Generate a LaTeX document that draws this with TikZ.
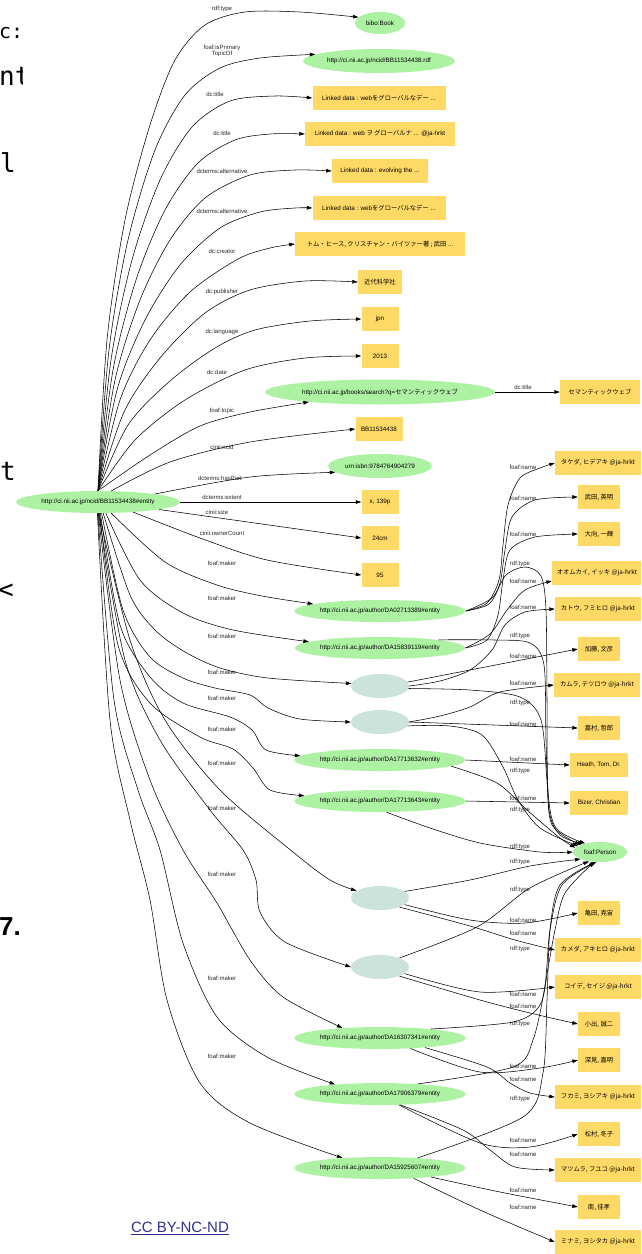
\documentclass[tikz,border=0pt]{standalone}
\usepackage{fontspec}
\setmainfont{Liberation Sans}
\newfontfamily\jp{Noto Sans CJK JP}
\newfontfamily\monof{DejaVu Sans Mono}
\usetikzlibrary{shapes.geometric,arrows.meta}
\definecolor{gfill}{HTML}{ADF2A3}
\definecolor{yfill}{HTML}{FFD966}
\definecolor{bfill}{HTML}{CCE3DC}
\definecolor{ccblue}{HTML}{2E3192}
\begin{document}
\begin{tikzpicture}[x=1pt,y=-1pt,
  nf/.style={font=\fontsize{6.3}{7}\selectfont},
  gn/.style={nf,ellipse,fill=gfill,inner sep=0.5pt},
  mk/.style={gn,minimum width=170pt,minimum height=22pt},
  yb/.style={nf,rectangle,fill=yfill,inner sep=1pt,minimum height=24pt},
  wide/.style={yb,minimum width=86pt},
  short/.style={yb,minimum width=42pt},
  bn/.style={ellipse,fill=bfill,minimum width=58pt,minimum height=24pt},
  lab/.style={font=\fontsize{6}{6.8}\selectfont,inner sep=0pt,align=center,text=black!85},
  edge/.style={line width=0.55pt,-{Triangle[length=5.5pt,width=3.6pt]}},
  frag/.style={font=\monof\fontsize{26}{26}\selectfont,inner sep=0pt},
]
\useasboundingbox (0,0) rectangle (641,1254);
\clip (0,0) rectangle (641,1254);

% slide fragments at the left
\node[font=\monof\fontsize{20}{20}\selectfont,inner sep=0pt,anchor=base west] (f1) at (-1,38) {c:};
\begin{scope}
\clip (0,0) rectangle (22,1254);
\node[frag,anchor=base west] (f2) at (-1,85) {nt};
\node[frag,anchor=base west] (f3) at (0,172) {l};
\node[frag,anchor=base west] (f4) at (0,480) {t};
\node[frag,anchor=base west] (f5) at (-2,598) {<};
\node[font=\bfseries\fontsize{26}{26}\selectfont,inner sep=0pt,anchor=base west] (f6) at (-1,935) {7.};
\end{scope}
\node[font=\fontsize{15}{15}\selectfont,text=ccblue,inner sep=0pt] (cc) at (180,1228) {\underline{CC BY-NC-ND}};

% central node
\node[gn,minimum width=164pt,minimum height=22pt] (C) at (98,502) {http://ci.nii.ac.jp/ncid/BB11534438\#entity};

% upper targets
\node[gn,minimum width=50pt,minimum height=22pt] (book) at (380,23) {bibo:Book};
\node[gn,minimum width=152pt,minimum height=24pt] (rdf) at (379,61) {http://ci.nii.ac.jp/ncid/BB11534438.rdf};
\node[yb,minimum width=133pt] (t1) at (379,98) {Linked data : web{\jp をグローバルなデー} ...};
\node[yb,minimum width=150pt] (t2) at (380,134) {Linked data : web {\jp ヲ グローバルナ} ... @ja-hrkt};
\node[yb,minimum width=96pt] (alt1) at (380,171) {Linked data : evolving the ...};
\node[yb,minimum width=133pt] (alt2) at (379,208) {Linked data : web{\jp をグローバルなデー} ...};
\node[yb,minimum width=170pt] (cre) at (380,244) {\jp トム・ヒース, クリスチャン・バイツァー著 ; 武田 ...};
\node[yb,minimum width=44pt] (pub) at (380,282) {\jp 近代科学社};
\node[yb,minimum width=37pt] (jpn) at (380,319) {jpn};
\node[yb,minimum width=37pt] (dt) at (380,356) {2013};
\node[gn,minimum width=230pt,minimum height=25pt] (topic) at (380,392) {http://ci.nii.ac.jp/books/search?q={\jp セマンティックウェブ}};
\node[yb,minimum width=80pt] (sw) at (600,392) {\jp セマンティックウェブ};
\node[yb,minimum width=47pt] (ncid) at (379,429) {BB11534438};
\node[gn,minimum width=104pt,minimum height=24pt] (isbn) at (380,466) {urn:isbn:9784764904279};
\node[yb,minimum width=37pt] (ext) at (380,502) {x, 139p};
\node[yb,minimum width=37pt] (size) at (380,538) {24cm};
\node[yb,minimum width=37pt] (own) at (380,575) {95};

% makers
\node[mk] (m1) at (380,611) {http://ci.nii.ac.jp/author/DA02713389\#entity};
\node[mk] (m2) at (380,648) {http://ci.nii.ac.jp/author/DA15839119\#entity};
\node[bn] (b1) at (380,686) {};
\node[bn] (b2) at (380,722) {};
\node[mk] (m5) at (380,760) {http://ci.nii.ac.jp/author/DA17713632\#entity};
\node[mk] (m6) at (380,801) {http://ci.nii.ac.jp/author/DA17713643\#entity};
\node[bn] (b3) at (380,898) {};
\node[bn] (b4) at (380,967) {};
\node[mk] (m9) at (380,1038) {http://ci.nii.ac.jp/author/DA16307341\#entity};
\node[mk] (m10) at (380,1094) {http://ci.nii.ac.jp/author/DA17906379\#entity};
\node[mk] (m11) at (380,1168) {http://ci.nii.ac.jp/author/DA15925607\#entity};

% names
\node[wide] (tak) at (598,463) {\jp タケダ, ヒデアキ @ja-hrkt};
\node[short] (takd) at (599,497) {\jp 武田, 英明};
\node[short] (omu) at (599,534) {\jp 大向, 一輝};
\node[yb,minimum width=90pt] (omuk) at (597,573) {\jp オオムカイ, イッキ @ja-hrkt};
\node[wide] (kat) at (598,609) {\jp カトウ, フミヒロ @ja-hrkt};
\node[short] (kato) at (599,649) {\jp 加藤, 文彦};
\node[wide] (kam) at (597,685) {\jp カムラ, テツロウ @ja-hrkt};
\node[short] (kamu) at (599,728) {\jp 嘉村, 哲郎};
\node[yb,minimum width=58pt] (heath) at (599,765) {Heath, Tom, Dr.};
\node[yb,minimum width=58pt] (bizer) at (599,803) {Bizer, Christian};
\node[gn,minimum width=54pt,minimum height=20pt] (P) at (600,852) {foaf:Person};
\node[short] (kame) at (599,913) {\jp 亀田, 尭宙};
\node[wide] (kamed) at (598,950) {\jp カメダ, アキヒロ @ja-hrkt};
\node[wide] (koi) at (598,987) {\jp コイデ, セイジ @ja-hrkt};
\node[short] (koid) at (599,1024) {\jp 小出, 誠二};
\node[short] (fuk) at (599,1060) {\jp 深見, 嘉明};
\node[wide] (fukami) at (598,1097) {\jp フカミ, ヨシアキ @ja-hrkt};
\node[short] (mat) at (599,1134) {\jp 松村, 冬子};
\node[wide] (matsu) at (598,1170) {\jp マツムラ, フユコ @ja-hrkt};
\node[short] (minami) at (599,1207) {\jp 南, 佳孝};
\node[wide] (minamiy) at (598,1242) {\jp ミナミ, ヨシタカ @ja-hrkt};

% edge labels
\node[lab] (la1) at (222,9) {rdf:type};
\node[lab] (la2) at (222,51) {foaf:isPrimary\\TopicOf};
\node[lab] (la3) at (215,94) {dc:title};
\node[lab] (la4) at (222,133) {dc:title};
\node[lab] (la5) at (222,171) {dcterms:alternative};
\node[lab] (la6) at (222,211) {dcterms:alternative};
\node[lab] (la7) at (222,251) {dc:creator};
\node[lab] (la8) at (222,292) {dc:publisher};
\node[lab] (la9) at (222,332) {dc:language};
\node[lab] (la10) at (217,372) {dc:date};
\node[lab] (la11) at (222,411) {foaf:topic};
\node[lab] (la12) at (523,387) {dc:title};
\node[lab] (la13) at (222,447) {cinii:ncid};
\node[lab] (la14) at (220,478) {dcterms:hasPart};
\node[lab] (la15) at (222,497) {dcterms:extent};
\node[lab] (la16) at (217,512) {cinii:size};
\node[lab] (la17) at (222,533) {cinii:ownerCount};
\foreach \y [count=\i] in {563,598,636,672,698,729,763,808,874,978,1056}
  \node[lab] (fm\i) at (222,\y) {foaf:maker};
\foreach \y [count=\i] in {467,498,534,581,607,656,683,724,759,798,920,933,994,1006,1066,1079,1140,1154,1190,1207}
  \node[lab] (fn\i) at (523,\y) {foaf:name};
\foreach \y [count=\i] in {564,636,703,771,810,847,862,890,949,1024,1099}
  \node[lab] (rt\i) at (520,\y) {rdf:type};

% upper fan
\draw[edge] plot[smooth] coordinates {(C.north) (107,340) (125,220) (150,125) (175,60) (205,25) (245,12) (300,12) (book.165)};
\draw[edge] plot[smooth] coordinates {(C.north) (109,350) (128,240) (155,150) (185,95) (220,68) (260,58) (rdf.174)};
\draw[edge] plot[smooth] coordinates {(C.north) (111,360) (132,260) (160,180) (192,127) (230,101) (275,96) (t1.west)};
\draw[edge] plot[smooth] coordinates {(C.north) (113,370) (136,280) (165,210) (198,163) (235,140) (270,134) (t2.west)};
\draw[edge] plot[smooth] coordinates {(C.north) (115,380) (140,300) (170,240) (205,198) (250,175) (295,170) (alt1.west)};
\draw[edge] plot[smooth] coordinates {(C.north) (117,390) (145,320) (180,265) (220,228) (260,212) (295,208) (alt2.west)};
\draw[edge] plot[smooth] coordinates {(C.north) (120,400) (150,340) (190,292) (238,259) (270,248) (cre.west)};
\draw[edge] plot[smooth] coordinates {(C.north) (124,412) (160,358) (205,313) (250,290) (305,281) (pub.west)};
\draw[edge] plot[smooth] coordinates {(C.north) (128,425) (170,381) (215,348) (255,330) (310,321) (jpn.west)};
\draw[edge] plot[smooth] coordinates {(C.north) (135,440) (185,400) (245,370) (305,358) (dt.west)};
\draw[edge] plot[smooth] coordinates {(C.north) (150,455) (200,426) (250,412) (topic.188)};
\draw[edge] plot[smooth] coordinates {(C.40) (170,462) (250,442) (ncid.west)};
\draw[edge] plot[smooth] coordinates {(C.8) (250,477) (isbn.188)};
\draw[edge] (C.east) -- (ext.west);
\draw[edge] (C.-7) -- (size.west);
\draw[edge] plot[smooth] coordinates {(C.-16) (200,538) (267,560) (own.west)};
\draw[edge] (topic.east) -- (sw.west);

% lower fan
\draw[edge] plot[smooth] coordinates {(C.-40) (165,562) (217,585) (262,596) (m1.174)};
\draw[edge] plot[smooth] coordinates {(C.-55) (140,580) (183,613) (233,630) (m2.175)};
\draw[edge] plot[smooth] coordinates {(C.-65) (130,595) (155,630) (185,652) (220,668) (268,678) (b1.175)};
\draw[edge] plot[smooth] coordinates {(C.-72) (123,610) (150,657) (183,678) (215,688) (250,695) (268,708) (300,719) (b2.west)};
\draw[edge] plot[smooth] coordinates {(C.-78) (120,625) (150,677) (183,703) (230,717) (252,730) (266,750) (m5.177)};
\draw[edge] plot[smooth] coordinates {(C.-82) (118,645) (150,703) (200,737) (233,749) (253,768) (270,790) (m6.176)};
\draw[edge] plot[smooth] coordinates {(C.-85) (130,640) (165,720) (220,790) (293,852) (330,880) (b3.163)};
\draw[edge] plot[smooth] coordinates {(C.-87) (125,660) (160,740) (210,810) (243,850) (256,880) (260,912) (285,942) (b4.west)};
\draw[edge] plot[smooth] coordinates {(C.-89) (120,680) (150,780) (183,850) (217,903) (250,960) (283,997) (m9.165)};
\draw[edge] plot[smooth] coordinates {(C.-91) (114,700) (138,790) (160,850) (183,943) (217,1017) (267,1057) (m10.168)};
\draw[edge] plot[smooth] coordinates {(C.-93) (110,720) (130,820) (150,900) (167,1000) (200,1083) (250,1123) (m11.165)};

% name edges
\draw[edge] plot[smooth] coordinates {(m1.east) (487,603) (499,580) (503,545) (508,505) (520,478) (540,468) (tak.west)};
\draw[edge] plot[smooth] coordinates {(m1.east) (489,604) (500,583) (505,550) (512,517) (535,500) (takd.west)};
\draw[edge] plot[smooth] coordinates {(m2.east) (487,640) (498,615) (503,580) (510,550) (535,537) (omu.west)};
\draw[edge] plot[smooth] coordinates {(m2.east) (490,634) (507,610) (525,590) (omuk.-170)};
\draw[edge] plot[smooth] coordinates {(b1.east) (440,681) (470,670) (492,650) (505,625) (525,612) (kat.west)};
\draw[edge] (b1.8) -- (kato.west);
\draw[edge] plot[smooth] coordinates {(b2.east) (440,716) (470,707) (500,692) (kam.west)};
\draw[edge] (b2.east) -- (kamu.west);
\draw[edge] (m5.east) -- (heath.west);
\draw[edge] (m6.east) -- (bizer.west);
\draw[edge] plot[smooth] coordinates {(b3.-15) (470,920) (525,923) (kame.west)};
\draw[edge] plot[smooth] coordinates {(b3.-25) (470,926) (515,940) (kamed.west)};
\draw[edge] plot[smooth] coordinates {(b4.-15) (480,992) (koi.west)};
\draw[edge] plot[smooth] coordinates {(b4.-25) (480,1000) (530,1013) (koid.west)};
\draw[edge] plot[smooth] coordinates {(m9.-19) (480,1072) (540,1068) (fuk.west)};
\draw[edge] plot[smooth] coordinates {(m9.-12) (487,1067) (510,1083) (530,1093) (fukami.west)};
\draw[edge] plot[smooth] coordinates {(m10.-30) (480,1143) (530,1147) (mat.west)};
\draw[edge] plot[smooth] coordinates {(m10.-28) (463,1130) (490,1150) (515,1167) (matsu.west)};
\draw[edge] plot[smooth] coordinates {(m11.-10) (500,1192) (minami.west)};
\draw[edge] plot[smooth] coordinates {(m11.-17) (480,1210) (minamiy.west)};

% type edges
\draw[edge] plot[smooth] coordinates {(m1.east) (492,598) (506,575) (525,567) (541,576) (546,610) (547,700) (548,790) (556,828) (P.150)};
\draw[edge] plot[smooth] coordinates {(m2.8) (495,640) (530,643) (544,665) (546,740) (549,810) (560,835) (P.155)};
\draw[edge] plot[smooth] coordinates {(b1.-5) (470,690) (520,697) (541,720) (547,780) (552,825) (P.160)};
\draw[edge] plot[smooth] coordinates {(b2.-8) (450,726) (482,735) (503,767) (518,800) (540,828) (P.165)};
\draw[edge] plot[smooth] coordinates {(m5.-5) (497,783) (527,810) (560,838) (P.170)};
\draw[edge] plot[smooth] coordinates {(m6.-60) (430,828) (480,843) (540,852) (P.west)};
\draw[edge] plot[smooth] coordinates {(b3.15) (470,880) (530,866) (P.200)};
\draw[edge] plot[smooth] coordinates {(b4.25) (477,927) (530,888) (P.220)};
\draw[edge] plot[smooth] coordinates {(m9.10) (513,1022) (540,1005) (548,968) (555,930) (565,893) (P.240)};
\draw[edge] plot[smooth] coordinates {(m10.15) (513,1067) (533,1040) (545,985) (550,930) (562,885) (P.250)};
\draw[edge] plot[smooth] coordinates {(m11.15) (523,1117) (543,1073) (547,1000) (550,930) (560,885) (P.245)};
\end{tikzpicture}
\end{document}
